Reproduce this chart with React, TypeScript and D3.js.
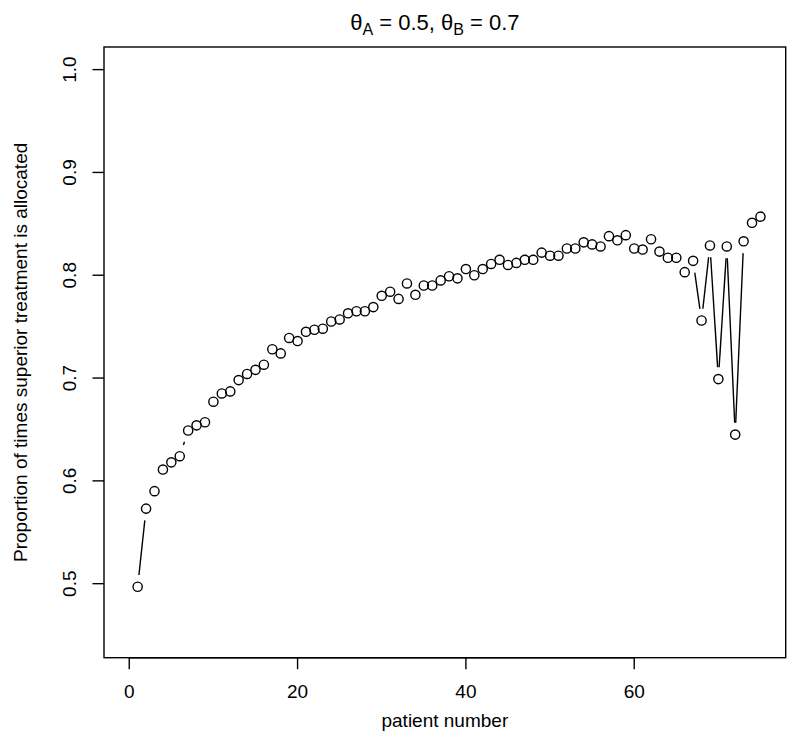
import React from "react";
import * as d3 from "d3";

const patients = [
  1, 2, 3, 4, 5, 6, 7, 8, 9, 10, 11, 12, 13, 14, 15, 16, 17, 18, 19, 20, 21, 22, 23, 24, 25,
  26, 27, 28, 29, 30, 31, 32, 33, 34, 35, 36, 37, 38, 39, 40, 41, 42, 43, 44, 45, 46, 47, 48, 49, 50,
  51, 52, 53, 54, 55, 56, 57, 58, 59, 60, 61, 62, 63, 64, 65, 66, 67, 68, 69, 70, 71, 72, 73, 74, 75,
];
const proportions = [
  0.497, 0.573, 0.59, 0.611, 0.618, 0.624, 0.649, 0.654, 0.657, 0.677,
  0.685, 0.687, 0.698, 0.704, 0.708, 0.713, 0.728, 0.724, 0.739, 0.736,
  0.745, 0.747, 0.748, 0.755, 0.757, 0.763, 0.765, 0.765, 0.769, 0.78,
  0.784, 0.777, 0.792, 0.781, 0.79, 0.79, 0.795, 0.799, 0.797, 0.806,
  0.8, 0.806, 0.811, 0.815, 0.81, 0.812, 0.815, 0.815, 0.822, 0.819,
  0.819, 0.826, 0.826, 0.832, 0.83, 0.828, 0.838, 0.834, 0.839, 0.826,
  0.825, 0.835, 0.823, 0.817, 0.817, 0.803, 0.814, 0.756, 0.829, 0.699,
  0.828, 0.645, 0.833, 0.851, 0.857,
];
const xTicks = [0, 20, 40, 60];
const yTicks = [0.5, 0.6, 0.7, 0.8, 0.9, 1.0];
const xLimits = [0, 75];
const yLimits = [0.45, 1.0];

const W = 800;
const H = 750;
const plot = { left: 104, right: 785.7, top: 47, bottom: 657.7 };
const FONT = "'Liberation Sans', Arial, Helvetica, sans-serif";

export default function App() {
  const xr = xLimits[1] - xLimits[0];
  const yr = yLimits[1] - yLimits[0];
  const x = d3
    .scaleLinear()
    .domain([xLimits[0] - 0.04 * xr, xLimits[1] + 0.04 * xr])
    .range([plot.left, plot.right]);
  const y = d3
    .scaleLinear()
    .domain([yLimits[0] - 0.04 * yr, yLimits[1] + 0.04 * yr])
    .range([plot.bottom, plot.top]);

  const pts = patients.map((p, i) => [x(p), y(proportions[i])] as [number, number]);
  const gap = 11.8;
  const segs: string[] = [];
  for (let i = 0; i < pts.length - 1; i++) {
    const [x0, y0] = pts[i];
    const [x1, y1] = pts[i + 1];
    const dx = x1 - x0;
    const dy = y1 - y0;
    const len = Math.hypot(dx, dy);
    if (len <= 2 * gap) continue;
    const ux = dx / len;
    const uy = dy / len;
    const path = d3.path();
    path.moveTo(x0 + ux * gap, y0 + uy * gap);
    path.lineTo(x1 - ux * gap, y1 - uy * gap);
    segs.push(path.toString());
  }

  const fs = 19;
  const tickLen = 11.5;
  const cy = (plot.top + plot.bottom) / 2;
  const cx = (plot.left + plot.right) / 2;

  return (
    <svg
      width={W}
      height={H}
      style={{ position: "absolute", left: 0, top: 0, background: "#fff" }}
      fontFamily={FONT}
    >
      <rect x={0} y={0} width={W} height={H} fill="#fff" />
      {/* title */}
      <text x={cx - 10} y={30} fontSize={22} textAnchor="middle" fill="#000">
        <tspan>θ</tspan>
        <tspan fontSize={16} dy={5}>A</tspan>
        <tspan dy={-5}> = 0.5, θ</tspan>
        <tspan fontSize={16} dy={5}>B</tspan>
        <tspan dy={-5}> = 0.7</tspan>
      </text>

      {/* box */}
      <rect
        x={plot.left}
        y={plot.top}
        width={plot.right - plot.left}
        height={plot.bottom - plot.top}
        fill="none"
        stroke="#000"
        strokeWidth={1.4}
      />

      {/* x axis */}
      <line
        x1={x(xTicks[0])}
        x2={x(xTicks[xTicks.length - 1])}
        y1={plot.bottom}
        y2={plot.bottom}
        stroke="#000"
        strokeWidth={1.4}
      />
      {xTicks.map((t) => (
        <g key={t}>
          <line x1={x(t)} x2={x(t)} y1={plot.bottom} y2={plot.bottom + tickLen} stroke="#000" strokeWidth={1.4} />
          <text x={x(t)} y={plot.bottom + 40} fontSize={fs} textAnchor="middle" fill="#000">
            {t}
          </text>
        </g>
      ))}
      <text x={cx} y={727} fontSize={fs} textAnchor="middle" fill="#000">
        patient number
      </text>

      {/* y axis */}
      {yTicks.map((t) => (
        <g key={t}>
          <line x1={plot.left - tickLen} x2={plot.left} y1={y(t)} y2={y(t)} stroke="#000" strokeWidth={1.4} />
          <text
            transform={`translate(${plot.left - 28},${y(t)}) rotate(-90)`}
            fontSize={fs}
            textAnchor="middle"
            fill="#000"
          >
            {t.toFixed(1)}
          </text>
        </g>
      ))}
      <text
        transform={`translate(27,${cy}) rotate(-90)`}
        fontSize={fs}
        textAnchor="middle"
        fill="#000"
      >
        Proportion of times superior treatment is allocated
      </text>

      {/* lines */}
      {segs.map((d, i) => (
        <path key={i} d={d} stroke="#000" strokeWidth={1.4} fill="none" />
      ))}
      {/* points */}
      {pts.map(([px, py], i) => (
        <circle key={i} cx={px} cy={py} r={4.6} fill="none" stroke="#000" strokeWidth={1.4} />
      ))}
    </svg>
  );
}
